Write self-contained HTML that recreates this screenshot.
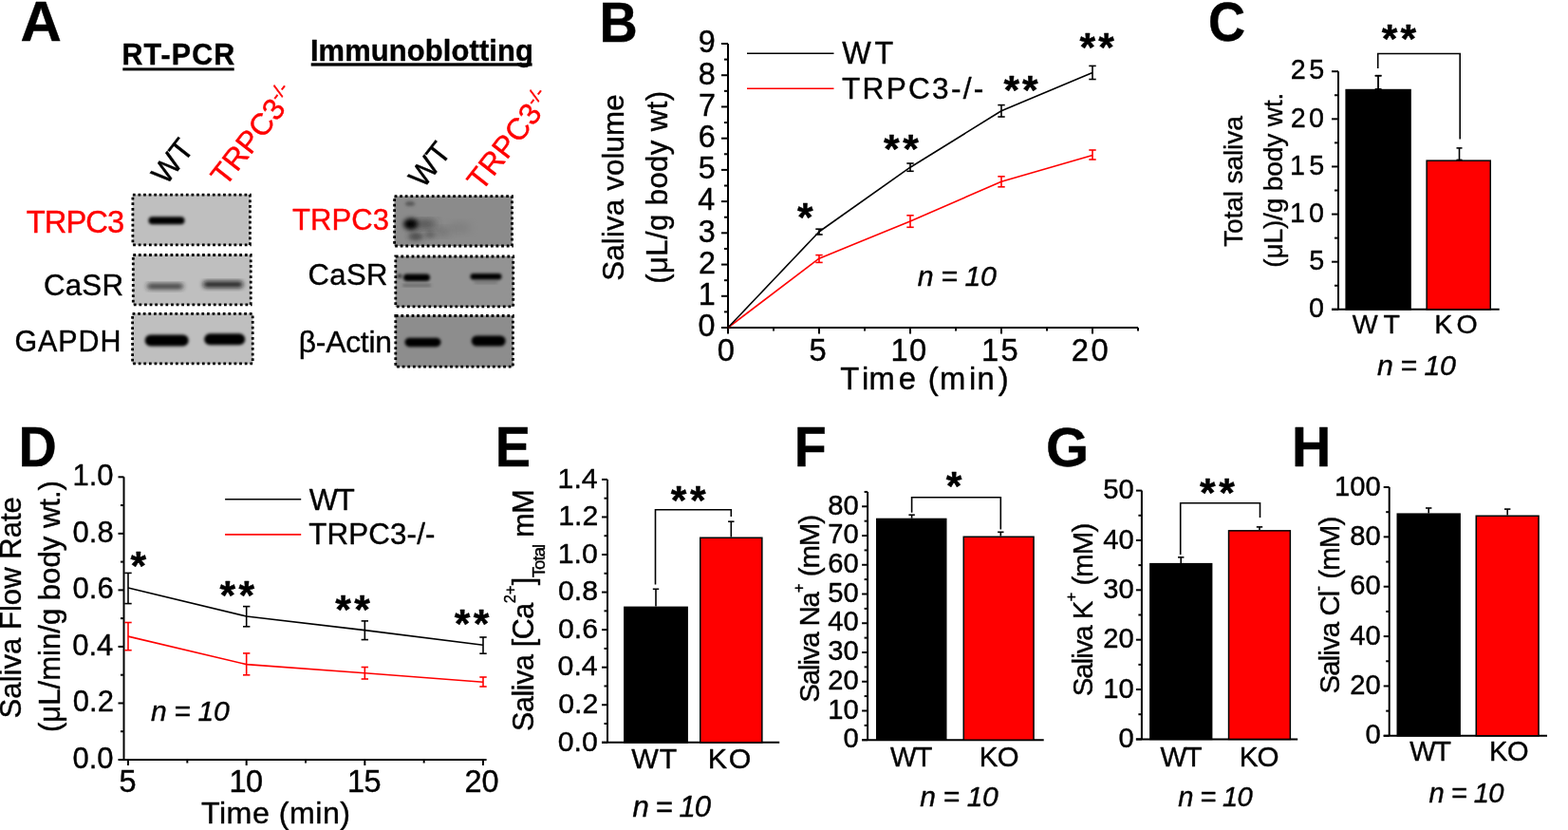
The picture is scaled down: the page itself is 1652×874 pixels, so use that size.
<!DOCTYPE html>
<html><head><meta charset="utf-8"><title>TRPC3 saliva figure</title>
<style>
html,body{margin:0;padding:0;background:#fff;}
body{width:1652px;height:874px;overflow:hidden;}
svg{display:block;}
svg text{font-family:'Liberation Sans', Arial, Helvetica, sans-serif;stroke:#000;stroke-width:0.4px;stroke-linejoin:round;}
svg text[fill="#ff0000"]{stroke:#ff0000;}
</style></head><body>
<svg width="1652" height="874" viewBox="0 0 1652 874">
<defs>
<filter id="blur1" x="-50%" y="-50%" width="200%" height="200%"><feGaussianBlur stdDeviation="1.6"/></filter>
<filter id="blur2" x="-50%" y="-50%" width="200%" height="200%"><feGaussianBlur stdDeviation="2.6"/></filter>
<filter id="blur3" x="-50%" y="-50%" width="200%" height="200%"><feGaussianBlur stdDeviation="4"/></filter>
</defs>
<rect width="1652" height="874" fill="#fff"/>
<text transform="translate(23.00,43.40) scale(1.0273,1)" x="-1.46" y="0" style="font-size:58.41px;font-weight:bold" fill="#000">A</text>
<text transform="translate(635.10,43.60) scale(0.9496,1)" x="-3.82" y="0" style="font-size:58.70px;font-weight:bold" fill="#000">B</text>
<text transform="translate(1275.10,43.40) scale(0.9399,1)" x="-2.30" y="0" style="font-size:57.50px;font-weight:bold" fill="#000">C</text>
<text transform="translate(23.00,490.80) scale(0.9479,1)" x="-3.82" y="0" style="font-size:58.84px;font-weight:bold" fill="#000">D</text>
<text transform="translate(525.40,490.80) scale(0.9412,1)" x="-3.86" y="0" style="font-size:59.42px;font-weight:bold" fill="#000">E</text>
<text transform="translate(840.30,490.80) scale(0.9372,1)" x="-3.86" y="0" style="font-size:59.42px;font-weight:bold" fill="#000">F</text>
<text transform="translate(1104.20,490.80) scale(1.0100,1)" x="-2.30" y="0" style="font-size:57.50px;font-weight:bold" fill="#000">G</text>
<text transform="translate(1364.60,490.80) scale(0.9641,1)" x="-3.86" y="0" style="font-size:59.42px;font-weight:bold" fill="#000">H</text>
<text x="128.42" y="68.20" style="font-size:30.43px;font-weight:bold;letter-spacing:1.14px" fill="#000">RT-PCR</text>
<rect x="129.30" y="71.40" width="117.40" height="3.00" fill="#000" />
<text x="326.89" y="63.60" style="font-size:30.90px;font-weight:bold;letter-spacing:0.13px" fill="#000">Immunoblotting</text>
<rect x="327.70" y="66.30" width="232.90" height="3.30" fill="#000" />
<rect x="139.70" y="204.90" width="123.90" height="53.20" fill="#bfbfbf" />
<rect x="140.10" y="268.30" width="124.30" height="52.70" fill="#bfbfbf" />
<rect x="139.40" y="330.10" width="127.00" height="52.90" fill="#bfbfbf" />
<rect x="156.50" y="228.20" width="38.00" height="8.00" rx="4.00" fill="#000" opacity="1" filter="url(#blur1)"/>
<rect x="155.00" y="298.85" width="38.00" height="5.50" rx="2.75" fill="#222" opacity="0.9" filter="url(#blur2)"/>
<rect x="214.00" y="296.35" width="42.00" height="6.50" rx="3.25" fill="#111" opacity="0.95" filter="url(#blur2)"/>
<rect x="152.70" y="352.60" width="46.00" height="12.00" rx="6.00" fill="#000" opacity="1" filter="url(#blur1)"/>
<rect x="215.20" y="351.30" width="43.00" height="12.00" rx="6.00" fill="#000" opacity="1" filter="url(#blur1)"/>
<rect x="139.90" y="205.10" width="123.50" height="52.80" fill="none" stroke="#000" stroke-width="2.8" stroke-dasharray="2.75 2.85"/>
<rect x="140.30" y="268.50" width="123.90" height="52.30" fill="none" stroke="#000" stroke-width="2.8" stroke-dasharray="2.75 2.85"/>
<rect x="139.60" y="330.30" width="126.60" height="52.50" fill="none" stroke="#000" stroke-width="2.8" stroke-dasharray="2.75 2.85"/>
<rect x="415.40" y="206.50" width="124.30" height="52.70" fill="#8b8b8b" />
<rect x="416.60" y="269.80" width="124.30" height="53.20" fill="#939393" />
<rect x="416.60" y="332.30" width="124.00" height="54.10" fill="#8d8d8d" />
<ellipse cx="433.00" cy="236.00" rx="8.00" ry="6.00" fill="#000" opacity="1" filter="url(#blur2)"/>
<ellipse cx="432.00" cy="214.50" rx="5.00" ry="2.50" fill="#444" opacity="0.7" filter="url(#blur1)"/>
<ellipse cx="448.00" cy="236.00" rx="12.00" ry="4.00" fill="#333" opacity="0.8" filter="url(#blur3)"/>
<ellipse cx="438.00" cy="249.00" rx="8.00" ry="4.00" fill="#333" opacity="0.7" filter="url(#blur2)"/>
<ellipse cx="453.00" cy="247.00" rx="6.00" ry="3.50" fill="#444" opacity="0.6" filter="url(#blur2)"/>
<ellipse cx="466.00" cy="244.00" rx="8.00" ry="4.00" fill="#555" opacity="0.5" filter="url(#blur3)"/>
<ellipse cx="484.00" cy="240.00" rx="12.00" ry="5.00" fill="#666" opacity="0.35" filter="url(#blur3)"/>
<rect x="425.00" y="288.55" width="28.00" height="7.50" rx="3.75" fill="#000" opacity="1" filter="url(#blur1)"/>
<ellipse cx="421.00" cy="290.80" rx="2.50" ry="2.00" fill="#111" opacity="0.8" filter="url(#blur1)"/>
<rect x="495.50" y="288.05" width="33.00" height="6.50" rx="3.25" fill="#000" opacity="1" filter="url(#blur1)"/>
<rect x="424.00" y="299.25" width="30.00" height="2.50" rx="1.25" fill="#333" opacity="0.5" filter="url(#blur1)"/>
<rect x="499.50" y="296.50" width="25.00" height="2.00" rx="1.00" fill="#333" opacity="0.4" filter="url(#blur1)"/>
<rect x="426.50" y="355.65" width="38.00" height="9.50" rx="4.75" fill="#000" opacity="1" filter="url(#blur1)"/>
<rect x="496.70" y="353.50" width="36.00" height="11.00" rx="5.50" fill="#000" opacity="1" filter="url(#blur1)"/>
<rect x="415.60" y="206.70" width="123.90" height="52.30" fill="none" stroke="#000" stroke-width="2.8" stroke-dasharray="2.75 2.85"/>
<rect x="416.80" y="270.00" width="123.90" height="52.80" fill="none" stroke="#000" stroke-width="2.8" stroke-dasharray="2.75 2.85"/>
<rect x="416.80" y="332.50" width="123.60" height="53.70" fill="none" stroke="#000" stroke-width="2.8" stroke-dasharray="2.75 2.85"/>
<text x="27.65" y="244.60" style="font-size:32.71px;letter-spacing:-0.92px" fill="#ff0000">TRPC3</text>
<text x="45.94" y="311.30" style="font-size:31.30px;letter-spacing:0.19px" fill="#000">CaSR</text>
<text x="15.48" y="370.20" style="font-size:30.43px;letter-spacing:0.95px" fill="#000">GAPDH</text>
<text x="308.08" y="242.40" style="font-size:31.00px;letter-spacing:0.08px" fill="#ff0000">TRPC3</text>
<text x="324.55" y="300.00" style="font-size:31.00px;letter-spacing:0.41px" fill="#000">CaSR</text>
<text x="314.77" y="370.80" style="font-size:31.80px;letter-spacing:-0.24px" fill="#000">β-Actin</text>
<text transform="translate(175.00,196.00) rotate(-52)" x="0" y="0" style="font-size:32px" fill="#000">WT</text>
<text transform="translate(237.50,197.50) rotate(-52)" x="0" y="0" style="font-size:32px" fill="#ff0000">TRPC3<tspan dy="-11.5" style="font-size:19.8px">-/-</tspan></text>
<text transform="translate(446.00,199.50) rotate(-52)" x="0" y="0" style="font-size:32px" fill="#000">WT</text>
<text transform="translate(507.50,202.50) rotate(-52)" x="0" y="0" style="font-size:32px" fill="#ff0000">TRPC3<tspan dy="-11.5" style="font-size:19.8px">-/-</tspan></text>
<line x1="767.00" y1="46.00" x2="767.00" y2="346.00" stroke="#000" stroke-width="2.0"/>
<line x1="760.00" y1="345.00" x2="767.00" y2="345.00" stroke="#000" stroke-width="2.0"/>
<line x1="760.00" y1="311.78" x2="767.00" y2="311.78" stroke="#000" stroke-width="2.0"/>
<line x1="760.00" y1="278.56" x2="767.00" y2="278.56" stroke="#000" stroke-width="2.0"/>
<line x1="760.00" y1="245.33" x2="767.00" y2="245.33" stroke="#000" stroke-width="2.0"/>
<line x1="760.00" y1="212.11" x2="767.00" y2="212.11" stroke="#000" stroke-width="2.0"/>
<line x1="760.00" y1="178.89" x2="767.00" y2="178.89" stroke="#000" stroke-width="2.0"/>
<line x1="760.00" y1="145.67" x2="767.00" y2="145.67" stroke="#000" stroke-width="2.0"/>
<line x1="760.00" y1="112.44" x2="767.00" y2="112.44" stroke="#000" stroke-width="2.0"/>
<line x1="760.00" y1="79.22" x2="767.00" y2="79.22" stroke="#000" stroke-width="2.0"/>
<line x1="760.00" y1="46.00" x2="767.00" y2="46.00" stroke="#000" stroke-width="2.0"/>
<line x1="763.00" y1="328.39" x2="767.00" y2="328.39" stroke="#000" stroke-width="2.0"/>
<line x1="763.00" y1="295.17" x2="767.00" y2="295.17" stroke="#000" stroke-width="2.0"/>
<line x1="763.00" y1="261.94" x2="767.00" y2="261.94" stroke="#000" stroke-width="2.0"/>
<line x1="763.00" y1="228.72" x2="767.00" y2="228.72" stroke="#000" stroke-width="2.0"/>
<line x1="763.00" y1="195.50" x2="767.00" y2="195.50" stroke="#000" stroke-width="2.0"/>
<line x1="763.00" y1="162.28" x2="767.00" y2="162.28" stroke="#000" stroke-width="2.0"/>
<line x1="763.00" y1="129.06" x2="767.00" y2="129.06" stroke="#000" stroke-width="2.0"/>
<line x1="763.00" y1="95.83" x2="767.00" y2="95.83" stroke="#000" stroke-width="2.0"/>
<line x1="763.00" y1="62.61" x2="767.00" y2="62.61" stroke="#000" stroke-width="2.0"/>
<line x1="766.00" y1="345.00" x2="1199.00" y2="345.00" stroke="#000" stroke-width="2.0"/>
<line x1="767.00" y1="345.00" x2="767.00" y2="351.50" stroke="#000" stroke-width="2.0"/>
<line x1="863.00" y1="345.00" x2="863.00" y2="351.50" stroke="#000" stroke-width="2.0"/>
<line x1="959.00" y1="345.00" x2="959.00" y2="351.50" stroke="#000" stroke-width="2.0"/>
<line x1="1055.00" y1="345.00" x2="1055.00" y2="351.50" stroke="#000" stroke-width="2.0"/>
<line x1="1151.00" y1="345.00" x2="1151.00" y2="351.50" stroke="#000" stroke-width="2.0"/>
<line x1="815.00" y1="345.00" x2="815.00" y2="348.50" stroke="#000" stroke-width="2.0"/>
<line x1="911.00" y1="345.00" x2="911.00" y2="348.50" stroke="#000" stroke-width="2.0"/>
<line x1="1007.00" y1="345.00" x2="1007.00" y2="348.50" stroke="#000" stroke-width="2.0"/>
<line x1="1103.00" y1="345.00" x2="1103.00" y2="348.50" stroke="#000" stroke-width="2.0"/>
<line x1="1199.00" y1="345.00" x2="1199.00" y2="348.50" stroke="#000" stroke-width="2.0"/>
<text x="735.50" y="354.30" style="font-size:32.3px">0</text>
<text x="735.83" y="321.08" style="font-size:32.3px">1</text>
<text x="735.99" y="287.86" style="font-size:32.3px">2</text>
<text x="735.67" y="254.63" style="font-size:32.3px">3</text>
<text x="735.34" y="221.41" style="font-size:32.3px">4</text>
<text x="735.67" y="188.19" style="font-size:32.3px">5</text>
<text x="735.67" y="154.97" style="font-size:32.3px">6</text>
<text x="735.99" y="121.74" style="font-size:32.3px">7</text>
<text x="735.67" y="88.52" style="font-size:32.3px">8</text>
<text x="735.83" y="55.30" style="font-size:32.3px">9</text>
<text x="755.79" y="379.50" style="font-size:32.70px" fill="#000">0</text>
<text x="852.49" y="379.50" style="font-size:32.70px" fill="#000">5</text>
<text x="938.45" y="379.50" style="font-size:32.70px;letter-spacing:1.40px" fill="#000">10</text>
<text x="1033.95" y="379.50" style="font-size:32.70px;letter-spacing:2.26px" fill="#000">15</text>
<text x="1128.77" y="379.50" style="font-size:32.70px;letter-spacing:2.68px" fill="#000">20</text>
<text x="885.14 907.97 915.57 946.79 965.03 977.83 989.97 1021.07 1029.47 1051.74" y="410.10" style="font-size:32.8px;white-space:pre" fill="#000">Time (min)</text>
<text transform="translate(657.00,294.30) rotate(-90)" x="-1.41" y="0" style="font-size:31.31px;letter-spacing:0.13px" fill="#000">Saliva volume</text>
<text transform="translate(702.50,297.00) rotate(-90)" x="-1.86" y="0" style="font-size:31.00px;letter-spacing:0.45px" fill="#000">(μL/g body wt)</text>
<line x1="787.00" y1="56.30" x2="878.50" y2="56.30" stroke="#000" stroke-width="1.6"/>
<line x1="787.00" y1="93.20" x2="878.50" y2="93.20" stroke="#ff0000" stroke-width="1.6"/>
<text x="887.14 921.45" y="66.90" style="font-size:32.3px;white-space:pre" fill="#000">WT</text>
<text x="887.07" y="103.90" style="font-size:31.60px;letter-spacing:2.26px" fill="#000">TRPC3-/-</text>
<path d="M767.00 345.00 L863.00 272.20 L959.00 232.90 L1055.00 191.30 L1151.00 163.40" stroke="#ff0000" stroke-width="1.6" fill="none" stroke-linejoin="round"/>
<path d="M767.00 345.00 L863.00 244.00 L959.00 176.20 L1055.00 116.80 L1151.00 76.60" stroke="#000" stroke-width="1.6" fill="none" stroke-linejoin="round"/>
<line x1="863.00" y1="241.20" x2="863.00" y2="247.00" stroke="#000" stroke-width="1.6"/>
<line x1="859.30" y1="241.20" x2="866.70" y2="241.20" stroke="#000" stroke-width="1.6"/>
<line x1="859.30" y1="247.00" x2="866.70" y2="247.00" stroke="#000" stroke-width="1.6"/>
<line x1="959.00" y1="172.00" x2="959.00" y2="180.30" stroke="#000" stroke-width="1.6"/>
<line x1="955.30" y1="172.00" x2="962.70" y2="172.00" stroke="#000" stroke-width="1.6"/>
<line x1="955.30" y1="180.30" x2="962.70" y2="180.30" stroke="#000" stroke-width="1.6"/>
<line x1="1055.00" y1="110.60" x2="1055.00" y2="123.00" stroke="#000" stroke-width="1.6"/>
<line x1="1051.30" y1="110.60" x2="1058.70" y2="110.60" stroke="#000" stroke-width="1.6"/>
<line x1="1051.30" y1="123.00" x2="1058.70" y2="123.00" stroke="#000" stroke-width="1.6"/>
<line x1="1151.00" y1="69.40" x2="1151.00" y2="83.50" stroke="#000" stroke-width="1.6"/>
<line x1="1147.30" y1="69.40" x2="1154.70" y2="69.40" stroke="#000" stroke-width="1.6"/>
<line x1="1147.30" y1="83.50" x2="1154.70" y2="83.50" stroke="#000" stroke-width="1.6"/>
<line x1="863.00" y1="268.60" x2="863.00" y2="276.40" stroke="#ff0000" stroke-width="1.6"/>
<line x1="859.30" y1="268.60" x2="866.70" y2="268.60" stroke="#ff0000" stroke-width="1.6"/>
<line x1="859.30" y1="276.40" x2="866.70" y2="276.40" stroke="#ff0000" stroke-width="1.6"/>
<line x1="959.00" y1="226.80" x2="959.00" y2="239.30" stroke="#ff0000" stroke-width="1.6"/>
<line x1="955.30" y1="226.80" x2="962.70" y2="226.80" stroke="#ff0000" stroke-width="1.6"/>
<line x1="955.30" y1="239.30" x2="962.70" y2="239.30" stroke="#ff0000" stroke-width="1.6"/>
<line x1="1055.00" y1="185.80" x2="1055.00" y2="196.80" stroke="#ff0000" stroke-width="1.6"/>
<line x1="1051.30" y1="185.80" x2="1058.70" y2="185.80" stroke="#ff0000" stroke-width="1.6"/>
<line x1="1051.30" y1="196.80" x2="1058.70" y2="196.80" stroke="#ff0000" stroke-width="1.6"/>
<line x1="1151.00" y1="158.00" x2="1151.00" y2="168.00" stroke="#ff0000" stroke-width="1.6"/>
<line x1="1147.30" y1="158.00" x2="1154.70" y2="158.00" stroke="#ff0000" stroke-width="1.6"/>
<line x1="1147.30" y1="168.00" x2="1154.70" y2="168.00" stroke="#ff0000" stroke-width="1.6"/>
<text x="839.89" y="242.56" style="font-size:42.70px;font-weight:bold" fill="#000">*</text>
<text x="930.99" y="171.46" style="font-size:42.70px;font-weight:bold;letter-spacing:3.62px" fill="#000">**</text>
<text x="1057.39" y="109.46" style="font-size:42.70px;font-weight:bold;letter-spacing:3.12px" fill="#000">**</text>
<text x="1137.59" y="64.26" style="font-size:42.70px;font-weight:bold;letter-spacing:3.12px" fill="#000">**</text>
<text x="966.85" y="300.90" style="font-size:30.29px;font-style:italic;letter-spacing:-0.41px" fill="#000">n = 10</text>
<line x1="1410.00" y1="75.20" x2="1410.00" y2="325.80" stroke="#000" stroke-width="2.0"/>
<line x1="1403.00" y1="325.80" x2="1410.00" y2="325.80" stroke="#000" stroke-width="2.0"/>
<line x1="1403.00" y1="275.68" x2="1410.00" y2="275.68" stroke="#000" stroke-width="2.0"/>
<line x1="1403.00" y1="225.56" x2="1410.00" y2="225.56" stroke="#000" stroke-width="2.0"/>
<line x1="1403.00" y1="175.44" x2="1410.00" y2="175.44" stroke="#000" stroke-width="2.0"/>
<line x1="1403.00" y1="125.32" x2="1410.00" y2="125.32" stroke="#000" stroke-width="2.0"/>
<line x1="1403.00" y1="75.20" x2="1410.00" y2="75.20" stroke="#000" stroke-width="2.0"/>
<line x1="1406.00" y1="300.74" x2="1410.00" y2="300.74" stroke="#000" stroke-width="2.0"/>
<line x1="1406.00" y1="250.62" x2="1410.00" y2="250.62" stroke="#000" stroke-width="2.0"/>
<line x1="1406.00" y1="200.50" x2="1410.00" y2="200.50" stroke="#000" stroke-width="2.0"/>
<line x1="1406.00" y1="150.38" x2="1410.00" y2="150.38" stroke="#000" stroke-width="2.0"/>
<line x1="1406.00" y1="100.26" x2="1410.00" y2="100.26" stroke="#000" stroke-width="2.0"/>
<line x1="1403.00" y1="325.80" x2="1579.70" y2="325.80" stroke="#000" stroke-width="2.0"/>
<rect x="1418.15" y="94.55" width="67.90" height="231.25" fill="#000" stroke="#000" stroke-width="1.5" />
<rect x="1503.15" y="169.15" width="67.10" height="156.65" fill="#ff0000" stroke="#000" stroke-width="1.5" />
<line x1="1452.10" y1="79.70" x2="1452.10" y2="93.80" stroke="#000" stroke-width="1.6"/>
<line x1="1448.70" y1="79.70" x2="1455.50" y2="79.70" stroke="#000" stroke-width="1.6"/>
<line x1="1448.70" y1="93.80" x2="1455.50" y2="93.80" stroke="#000" stroke-width="1.6"/>
<line x1="1448.70" y1="79.70" x2="1455.50" y2="79.70" stroke="#000" stroke-width="1.6"/>
<line x1="1452.1" y1="79.7" x2="1452.1" y2="94" stroke="#000" stroke-width="1.6"/>
<line x1="1537.50" y1="155.90" x2="1537.50" y2="168.40" stroke="#000" stroke-width="1.6"/>
<line x1="1534.50" y1="155.90" x2="1540.50" y2="155.90" stroke="#000" stroke-width="1.6"/>
<line x1="1534.50" y1="168.40" x2="1540.50" y2="168.40" stroke="#000" stroke-width="1.6"/>
<path d="M1451.7 72 V56.5 H1538.2 V146.4" stroke="#000" stroke-width="1.6" fill="none" />
<text x="1455.69" y="55.46" style="font-size:42.70px;font-weight:bold;letter-spacing:3.12px" fill="#000">**</text>
<text x="1379.08" y="334.00" style="font-size:28.70px" fill="#000">0</text>
<text x="1379.22" y="283.88" style="font-size:28.70px" fill="#000">5</text>
<text x="1359.05" y="233.76" style="font-size:28.70px;letter-spacing:4.10px" fill="#000">10</text>
<text x="1359.05" y="183.64" style="font-size:28.70px;letter-spacing:4.24px" fill="#000">15</text>
<text x="1359.77" y="133.52" style="font-size:28.70px;letter-spacing:3.38px" fill="#000">20</text>
<text x="1359.77" y="83.40" style="font-size:28.70px;letter-spacing:3.53px" fill="#000">25</text>
<text x="1424.86 1457.53" y="350.90" style="font-size:28.5px;white-space:pre" fill="#000">WT</text>
<text x="1511.22 1534.52" y="350.90" style="font-size:28.5px;white-space:pre" fill="#000">KO</text>
<text x="1451.05" y="395.30" style="font-size:30.29px;font-style:italic;letter-spacing:-0.47px" fill="#000">n = 10</text>
<text transform="translate(1308.60,259.50) rotate(-90)" x="-0.57" y="0" style="font-size:28.41px;letter-spacing:-0.23px" fill="#000">Total saliva</text>
<text transform="translate(1350.80,280.10) rotate(-90)" x="-1.69" y="0" style="font-size:28.10px;letter-spacing:-0.16px" fill="#000">(μL)/g body wt.</text>
<line x1="130.50" y1="502.30" x2="130.50" y2="800.00" stroke="#000" stroke-width="2.0"/>
<line x1="124.50" y1="800.00" x2="130.50" y2="800.00" stroke="#000" stroke-width="2.0"/>
<line x1="124.50" y1="740.46" x2="130.50" y2="740.46" stroke="#000" stroke-width="2.0"/>
<line x1="124.50" y1="680.92" x2="130.50" y2="680.92" stroke="#000" stroke-width="2.0"/>
<line x1="124.50" y1="621.38" x2="130.50" y2="621.38" stroke="#000" stroke-width="2.0"/>
<line x1="124.50" y1="561.84" x2="130.50" y2="561.84" stroke="#000" stroke-width="2.0"/>
<line x1="124.50" y1="502.30" x2="130.50" y2="502.30" stroke="#000" stroke-width="2.0"/>
<line x1="127.00" y1="770.23" x2="130.50" y2="770.23" stroke="#000" stroke-width="2.0"/>
<line x1="127.00" y1="710.69" x2="130.50" y2="710.69" stroke="#000" stroke-width="2.0"/>
<line x1="127.00" y1="651.15" x2="130.50" y2="651.15" stroke="#000" stroke-width="2.0"/>
<line x1="127.00" y1="591.61" x2="130.50" y2="591.61" stroke="#000" stroke-width="2.0"/>
<line x1="127.00" y1="532.07" x2="130.50" y2="532.07" stroke="#000" stroke-width="2.0"/>
<line x1="129.50" y1="800.00" x2="512.60" y2="800.00" stroke="#000" stroke-width="2.0"/>
<line x1="135.00" y1="800.00" x2="135.00" y2="806.00" stroke="#000" stroke-width="2.0"/>
<line x1="259.67" y1="800.00" x2="259.67" y2="806.00" stroke="#000" stroke-width="2.0"/>
<line x1="384.33" y1="800.00" x2="384.33" y2="806.00" stroke="#000" stroke-width="2.0"/>
<line x1="509.00" y1="800.00" x2="509.00" y2="806.00" stroke="#000" stroke-width="2.0"/>
<line x1="197.33" y1="800.00" x2="197.33" y2="803.50" stroke="#000" stroke-width="2.0"/>
<line x1="322.00" y1="800.00" x2="322.00" y2="803.50" stroke="#000" stroke-width="2.0"/>
<line x1="446.67" y1="800.00" x2="446.67" y2="803.50" stroke="#000" stroke-width="2.0"/>
<text x="76.40" y="808.80" style="font-size:31px">0.0</text>
<text x="76.86" y="749.26" style="font-size:31px">0.2</text>
<text x="76.24" y="689.72" style="font-size:31px">0.4</text>
<text x="76.55" y="630.18" style="font-size:31px">0.6</text>
<text x="76.55" y="570.64" style="font-size:31px">0.8</text>
<text x="76.40" y="511.10" style="font-size:31px">1.0</text>
<text x="125.40" y="833.90" style="font-size:32.50px" fill="#000">5</text>
<text x="241.56" y="833.90" style="font-size:32.50px;letter-spacing:-0.60px" fill="#000">10</text>
<text x="366.06" y="833.90" style="font-size:32.50px;letter-spacing:-0.54px" fill="#000">15</text>
<text x="489.48" y="833.90" style="font-size:32.50px" fill="#000">20</text>
<text x="211.96" y="867.30" style="font-size:32.20px;letter-spacing:0.50px" fill="#000">Time (min)</text>
<text transform="translate(22.40,755.00) rotate(-90)" x="-1.40" y="0" style="font-size:31.10px" fill="#000">Saliva Flow Rate</text>
<text transform="translate(63.10,769.20) rotate(-90)" x="-1.87" y="0" style="font-size:31.10px" fill="#000">(μL/min/g body wt.)</text>
<line x1="237.10" y1="525.70" x2="317.20" y2="525.70" stroke="#000" stroke-width="1.6"/>
<line x1="237.10" y1="562.90" x2="317.20" y2="562.90" stroke="#ff0000" stroke-width="1.6"/>
<text x="325.74" y="536.60" style="font-size:32.03px;letter-spacing:-1.80px" fill="#000">WT</text>
<text x="325.27" y="572.90" style="font-size:31.30px;letter-spacing:0.14px" fill="#000">TRPC3-/-</text>
<path d="M135.00 670.10 L259.67 699.60 L384.33 708.80 L509.00 718.20" stroke="#ff0000" stroke-width="1.6" fill="none" stroke-linejoin="round"/>
<path d="M135.00 619.00 L259.67 649.00 L384.33 663.60 L509.00 679.30" stroke="#000" stroke-width="1.6" fill="none" stroke-linejoin="round"/>
<line x1="135.00" y1="603.40" x2="135.00" y2="635.60" stroke="#000" stroke-width="1.6"/>
<line x1="131.30" y1="603.40" x2="138.70" y2="603.40" stroke="#000" stroke-width="1.6"/>
<line x1="131.30" y1="635.60" x2="138.70" y2="635.60" stroke="#000" stroke-width="1.6"/>
<line x1="259.67" y1="638.60" x2="259.67" y2="659.80" stroke="#000" stroke-width="1.6"/>
<line x1="255.97" y1="638.60" x2="263.37" y2="638.60" stroke="#000" stroke-width="1.6"/>
<line x1="255.97" y1="659.80" x2="263.37" y2="659.80" stroke="#000" stroke-width="1.6"/>
<line x1="384.33" y1="653.90" x2="384.33" y2="673.60" stroke="#000" stroke-width="1.6"/>
<line x1="380.63" y1="653.90" x2="388.03" y2="653.90" stroke="#000" stroke-width="1.6"/>
<line x1="380.63" y1="673.60" x2="388.03" y2="673.60" stroke="#000" stroke-width="1.6"/>
<line x1="509.00" y1="671.00" x2="509.00" y2="688.20" stroke="#000" stroke-width="1.6"/>
<line x1="505.30" y1="671.00" x2="512.70" y2="671.00" stroke="#000" stroke-width="1.6"/>
<line x1="505.30" y1="688.20" x2="512.70" y2="688.20" stroke="#000" stroke-width="1.6"/>
<line x1="135.00" y1="655.50" x2="135.00" y2="684.70" stroke="#ff0000" stroke-width="1.6"/>
<line x1="131.30" y1="655.50" x2="138.70" y2="655.50" stroke="#ff0000" stroke-width="1.6"/>
<line x1="131.30" y1="684.70" x2="138.70" y2="684.70" stroke="#ff0000" stroke-width="1.6"/>
<line x1="259.67" y1="687.90" x2="259.67" y2="710.80" stroke="#ff0000" stroke-width="1.6"/>
<line x1="255.97" y1="687.90" x2="263.37" y2="687.90" stroke="#ff0000" stroke-width="1.6"/>
<line x1="255.97" y1="710.80" x2="263.37" y2="710.80" stroke="#ff0000" stroke-width="1.6"/>
<line x1="384.33" y1="702.50" x2="384.33" y2="715.00" stroke="#ff0000" stroke-width="1.6"/>
<line x1="380.63" y1="702.50" x2="388.03" y2="702.50" stroke="#ff0000" stroke-width="1.6"/>
<line x1="380.63" y1="715.00" x2="388.03" y2="715.00" stroke="#ff0000" stroke-width="1.6"/>
<line x1="509.00" y1="713.00" x2="509.00" y2="723.00" stroke="#ff0000" stroke-width="1.6"/>
<line x1="505.30" y1="713.00" x2="512.70" y2="713.00" stroke="#ff0000" stroke-width="1.6"/>
<line x1="505.30" y1="723.00" x2="512.70" y2="723.00" stroke="#ff0000" stroke-width="1.6"/>
<text x="137.49" y="609.56" style="font-size:42.70px;font-weight:bold" fill="#000">*</text>
<text x="231.49" y="640.66" style="font-size:42.70px;font-weight:bold;letter-spacing:3.52px" fill="#000">**</text>
<text x="353.19" y="656.26" style="font-size:42.70px;font-weight:bold;letter-spacing:3.52px" fill="#000">**</text>
<text x="478.79" y="670.56" style="font-size:42.70px;font-weight:bold;letter-spacing:3.32px" fill="#000">**</text>
<text x="158.95" y="758.90" style="font-size:30.00px;font-style:italic;letter-spacing:-0.31px" fill="#000">n = 10</text>
<line x1="640.00" y1="504.90" x2="640.00" y2="781.80" stroke="#000" stroke-width="2.0"/>
<line x1="634.00" y1="781.80" x2="640.00" y2="781.80" stroke="#000" stroke-width="2.0"/>
<line x1="634.00" y1="742.24" x2="640.00" y2="742.24" stroke="#000" stroke-width="2.0"/>
<line x1="634.00" y1="702.69" x2="640.00" y2="702.69" stroke="#000" stroke-width="2.0"/>
<line x1="634.00" y1="663.13" x2="640.00" y2="663.13" stroke="#000" stroke-width="2.0"/>
<line x1="634.00" y1="623.57" x2="640.00" y2="623.57" stroke="#000" stroke-width="2.0"/>
<line x1="634.00" y1="584.01" x2="640.00" y2="584.01" stroke="#000" stroke-width="2.0"/>
<line x1="634.00" y1="544.46" x2="640.00" y2="544.46" stroke="#000" stroke-width="2.0"/>
<line x1="634.00" y1="504.90" x2="640.00" y2="504.90" stroke="#000" stroke-width="2.0"/>
<line x1="636.50" y1="762.02" x2="640.00" y2="762.02" stroke="#000" stroke-width="2.0"/>
<line x1="636.50" y1="722.46" x2="640.00" y2="722.46" stroke="#000" stroke-width="2.0"/>
<line x1="636.50" y1="682.91" x2="640.00" y2="682.91" stroke="#000" stroke-width="2.0"/>
<line x1="636.50" y1="643.35" x2="640.00" y2="643.35" stroke="#000" stroke-width="2.0"/>
<line x1="636.50" y1="603.79" x2="640.00" y2="603.79" stroke="#000" stroke-width="2.0"/>
<line x1="636.50" y1="564.24" x2="640.00" y2="564.24" stroke="#000" stroke-width="2.0"/>
<line x1="636.50" y1="524.68" x2="640.00" y2="524.68" stroke="#000" stroke-width="2.0"/>
<line x1="634.00" y1="781.80" x2="821.20" y2="781.80" stroke="#000" stroke-width="2.0"/>
<rect x="657.85" y="639.35" width="66.30" height="142.45" fill="#000" stroke="#000" stroke-width="1.5" />
<rect x="737.75" y="566.25" width="65.10" height="215.55" fill="#ff0000" stroke="#000" stroke-width="1.5" />
<line x1="691.00" y1="620.30" x2="691.00" y2="638.60" stroke="#000" stroke-width="1.6"/>
<line x1="687.80" y1="620.30" x2="694.20" y2="620.30" stroke="#000" stroke-width="1.6"/>
<line x1="770.30" y1="549.20" x2="770.30" y2="565.50" stroke="#000" stroke-width="1.6"/>
<line x1="767.10" y1="549.20" x2="773.50" y2="549.20" stroke="#000" stroke-width="1.6"/>
<path d="M690.5 615.5 V536.8 H770.3 V544.1" stroke="#000" stroke-width="1.6" fill="none" />
<text x="706.79" y="541.26" style="font-size:42.70px;font-weight:bold;letter-spacing:3.52px" fill="#000">**</text>
<text x="587.74" y="790.50" style="font-size:30.3px">0.0</text>
<text x="588.20" y="750.94" style="font-size:30.3px">0.2</text>
<text x="587.59" y="711.39" style="font-size:30.3px">0.4</text>
<text x="587.89" y="671.83" style="font-size:30.3px">0.6</text>
<text x="587.89" y="632.27" style="font-size:30.3px">0.8</text>
<text x="587.74" y="592.71" style="font-size:30.3px">1.0</text>
<text x="588.20" y="553.16" style="font-size:30.3px">1.2</text>
<text x="587.59" y="513.60" style="font-size:30.3px">1.4</text>
<text x="665.25 694.79" y="809.10" style="font-size:30.3px;white-space:pre" fill="#000">WT</text>
<text x="745.68 767.64" y="809.10" style="font-size:30.3px;white-space:pre" fill="#000">KO</text>
<text x="666.53" y="859.70" style="font-size:31.14px;font-style:italic;letter-spacing:-0.95px" fill="#000">n = 10</text>
<line x1="914.10" y1="517.93" x2="914.10" y2="779.20" stroke="#000" stroke-width="2.0"/>
<line x1="908.10" y1="779.20" x2="914.10" y2="779.20" stroke="#000" stroke-width="2.0"/>
<line x1="908.10" y1="748.46" x2="914.10" y2="748.46" stroke="#000" stroke-width="2.0"/>
<line x1="908.10" y1="717.73" x2="914.10" y2="717.73" stroke="#000" stroke-width="2.0"/>
<line x1="908.10" y1="686.99" x2="914.10" y2="686.99" stroke="#000" stroke-width="2.0"/>
<line x1="908.10" y1="656.25" x2="914.10" y2="656.25" stroke="#000" stroke-width="2.0"/>
<line x1="908.10" y1="625.51" x2="914.10" y2="625.51" stroke="#000" stroke-width="2.0"/>
<line x1="908.10" y1="594.77" x2="914.10" y2="594.77" stroke="#000" stroke-width="2.0"/>
<line x1="908.10" y1="564.04" x2="914.10" y2="564.04" stroke="#000" stroke-width="2.0"/>
<line x1="908.10" y1="533.30" x2="914.10" y2="533.30" stroke="#000" stroke-width="2.0"/>
<line x1="910.60" y1="763.83" x2="914.10" y2="763.83" stroke="#000" stroke-width="2.0"/>
<line x1="910.60" y1="733.09" x2="914.10" y2="733.09" stroke="#000" stroke-width="2.0"/>
<line x1="910.60" y1="702.36" x2="914.10" y2="702.36" stroke="#000" stroke-width="2.0"/>
<line x1="910.60" y1="671.62" x2="914.10" y2="671.62" stroke="#000" stroke-width="2.0"/>
<line x1="910.60" y1="640.88" x2="914.10" y2="640.88" stroke="#000" stroke-width="2.0"/>
<line x1="910.60" y1="610.14" x2="914.10" y2="610.14" stroke="#000" stroke-width="2.0"/>
<line x1="910.60" y1="579.41" x2="914.10" y2="579.41" stroke="#000" stroke-width="2.0"/>
<line x1="910.60" y1="548.67" x2="914.10" y2="548.67" stroke="#000" stroke-width="2.0"/>
<line x1="910.60" y1="517.93" x2="914.10" y2="517.93" stroke="#000" stroke-width="2.0"/>
<line x1="908.10" y1="779.20" x2="1099.70" y2="779.20" stroke="#000" stroke-width="2.0"/>
<rect x="923.75" y="546.45" width="73.00" height="232.75" fill="#000" stroke="#000" stroke-width="1.5" />
<rect x="1015.25" y="565.25" width="73.80" height="213.95" fill="#ff0000" stroke="#000" stroke-width="1.5" />
<line x1="960.60" y1="542.20" x2="960.60" y2="545.70" stroke="#000" stroke-width="1.6"/>
<line x1="957.40" y1="542.20" x2="963.80" y2="542.20" stroke="#000" stroke-width="1.6"/>
<line x1="1054.30" y1="560.30" x2="1054.30" y2="564.50" stroke="#000" stroke-width="1.6"/>
<line x1="1051.10" y1="560.30" x2="1057.50" y2="560.30" stroke="#000" stroke-width="1.6"/>
<path d="M960.6 539.7 V523.7 H1054.3 V557.4" stroke="#000" stroke-width="1.6" fill="none" />
<text x="996.79" y="525.96" style="font-size:42.70px;font-weight:bold" fill="#000">*</text>
<text x="888.52" y="787.40" style="font-size:29.2px">0</text>
<text x="872.31" y="756.66" style="font-size:29.2px">10</text>
<text x="872.31" y="725.93" style="font-size:29.2px">20</text>
<text x="872.31" y="695.19" style="font-size:29.2px">30</text>
<text x="872.31" y="664.45" style="font-size:29.2px">40</text>
<text x="872.31" y="633.71" style="font-size:29.2px">50</text>
<text x="872.31" y="602.98" style="font-size:29.2px">60</text>
<text x="872.31" y="572.24" style="font-size:29.2px">70</text>
<text x="872.31" y="541.50" style="font-size:29.2px">80</text>
<text x="938.05 964.41" y="807.00" style="font-size:29.3px;white-space:pre" fill="#000">WT</text>
<text x="1031.66 1050.78" y="807.00" style="font-size:29.3px;white-space:pre" fill="#000">KO</text>
<text x="969.25" y="848.90" style="font-size:30.00px;font-style:italic;letter-spacing:-0.37px" fill="#000">n = 10</text>
<line x1="1202.90" y1="516.60" x2="1202.90" y2="778.40" stroke="#000" stroke-width="2.0"/>
<line x1="1196.90" y1="778.40" x2="1202.90" y2="778.40" stroke="#000" stroke-width="2.0"/>
<line x1="1196.90" y1="726.04" x2="1202.90" y2="726.04" stroke="#000" stroke-width="2.0"/>
<line x1="1196.90" y1="673.68" x2="1202.90" y2="673.68" stroke="#000" stroke-width="2.0"/>
<line x1="1196.90" y1="621.32" x2="1202.90" y2="621.32" stroke="#000" stroke-width="2.0"/>
<line x1="1196.90" y1="568.96" x2="1202.90" y2="568.96" stroke="#000" stroke-width="2.0"/>
<line x1="1196.90" y1="516.60" x2="1202.90" y2="516.60" stroke="#000" stroke-width="2.0"/>
<line x1="1199.40" y1="752.22" x2="1202.90" y2="752.22" stroke="#000" stroke-width="2.0"/>
<line x1="1199.40" y1="699.86" x2="1202.90" y2="699.86" stroke="#000" stroke-width="2.0"/>
<line x1="1199.40" y1="647.50" x2="1202.90" y2="647.50" stroke="#000" stroke-width="2.0"/>
<line x1="1199.40" y1="595.14" x2="1202.90" y2="595.14" stroke="#000" stroke-width="2.0"/>
<line x1="1199.40" y1="542.78" x2="1202.90" y2="542.78" stroke="#000" stroke-width="2.0"/>
<line x1="1196.90" y1="778.40" x2="1367.20" y2="778.40" stroke="#000" stroke-width="2.0"/>
<rect x="1211.85" y="593.65" width="64.80" height="184.75" fill="#000" stroke="#000" stroke-width="1.5" />
<rect x="1294.55" y="558.85" width="64.80" height="219.55" fill="#ff0000" stroke="#000" stroke-width="1.5" />
<line x1="1244.20" y1="586.80" x2="1244.20" y2="592.90" stroke="#000" stroke-width="1.6"/>
<line x1="1241.00" y1="586.80" x2="1247.40" y2="586.80" stroke="#000" stroke-width="1.6"/>
<line x1="1327.00" y1="554.90" x2="1327.00" y2="558.10" stroke="#000" stroke-width="1.6"/>
<line x1="1323.80" y1="554.90" x2="1330.20" y2="554.90" stroke="#000" stroke-width="1.6"/>
<path d="M1243.7 584 V529.7 H1327.5 V545" stroke="#000" stroke-width="1.6" fill="none" />
<text x="1264.09" y="532.66" style="font-size:42.70px;font-weight:bold;letter-spacing:3.62px" fill="#000">**</text>
<text x="1178.52" y="787.00" style="font-size:29.2px">0</text>
<text x="1162.31" y="734.64" style="font-size:29.2px">10</text>
<text x="1162.31" y="682.28" style="font-size:29.2px">20</text>
<text x="1162.31" y="629.92" style="font-size:29.2px">30</text>
<text x="1162.31" y="577.56" style="font-size:29.2px">40</text>
<text x="1162.31" y="525.20" style="font-size:29.2px">50</text>
<text x="1222.55 1248.41" y="806.60" style="font-size:29.6px;white-space:pre" fill="#000">WT</text>
<text x="1305.73 1324.47" y="806.60" style="font-size:29.6px;white-space:pre" fill="#000">KO</text>
<text x="1241.36" y="848.90" style="font-size:29.14px;font-style:italic;letter-spacing:-0.67px" fill="#000">n = 10</text>
<line x1="1463.70" y1="513.00" x2="1463.70" y2="774.80" stroke="#000" stroke-width="2.0"/>
<line x1="1457.70" y1="774.80" x2="1463.70" y2="774.80" stroke="#000" stroke-width="2.0"/>
<line x1="1457.70" y1="722.44" x2="1463.70" y2="722.44" stroke="#000" stroke-width="2.0"/>
<line x1="1457.70" y1="670.08" x2="1463.70" y2="670.08" stroke="#000" stroke-width="2.0"/>
<line x1="1457.70" y1="617.72" x2="1463.70" y2="617.72" stroke="#000" stroke-width="2.0"/>
<line x1="1457.70" y1="565.36" x2="1463.70" y2="565.36" stroke="#000" stroke-width="2.0"/>
<line x1="1457.70" y1="513.00" x2="1463.70" y2="513.00" stroke="#000" stroke-width="2.0"/>
<line x1="1460.20" y1="748.62" x2="1463.70" y2="748.62" stroke="#000" stroke-width="2.0"/>
<line x1="1460.20" y1="696.26" x2="1463.70" y2="696.26" stroke="#000" stroke-width="2.0"/>
<line x1="1460.20" y1="643.90" x2="1463.70" y2="643.90" stroke="#000" stroke-width="2.0"/>
<line x1="1460.20" y1="591.54" x2="1463.70" y2="591.54" stroke="#000" stroke-width="2.0"/>
<line x1="1460.20" y1="539.18" x2="1463.70" y2="539.18" stroke="#000" stroke-width="2.0"/>
<line x1="1457.70" y1="774.80" x2="1630.00" y2="774.80" stroke="#000" stroke-width="2.0"/>
<rect x="1472.25" y="541.15" width="65.90" height="233.65" fill="#000" stroke="#000" stroke-width="1.5" />
<rect x="1555.25" y="543.25" width="65.80" height="231.55" fill="#ff0000" stroke="#000" stroke-width="1.5" />
<line x1="1505.20" y1="535.00" x2="1505.20" y2="540.40" stroke="#000" stroke-width="1.6"/>
<line x1="1502.00" y1="535.00" x2="1508.40" y2="535.00" stroke="#000" stroke-width="1.6"/>
<line x1="1588.20" y1="536.10" x2="1588.20" y2="542.50" stroke="#000" stroke-width="1.6"/>
<line x1="1585.00" y1="536.10" x2="1591.40" y2="536.10" stroke="#000" stroke-width="1.6"/>
<text x="1438.42" y="783.30" style="font-size:29.2px">0</text>
<text x="1422.21" y="730.94" style="font-size:29.2px">20</text>
<text x="1422.21" y="678.58" style="font-size:29.2px">40</text>
<text x="1422.21" y="626.22" style="font-size:29.2px">60</text>
<text x="1422.21" y="573.86" style="font-size:29.2px">80</text>
<text x="1406.00" y="521.50" style="font-size:29.2px">100</text>
<text x="1485.26 1511.22" y="800.90" style="font-size:29px;white-space:pre" fill="#000">WT</text>
<text x="1568.98 1588.10" y="800.90" style="font-size:29px;white-space:pre" fill="#000">KO</text>
<text x="1505.46" y="845.40" style="font-size:29.14px;font-style:italic;letter-spacing:-0.55px" fill="#000">n = 10</text>
<text transform="translate(562.00,768.60) rotate(-90)" x="-1.37" y="0" style="font-size:30.5px"><tspan style="font-size:30.5px;letter-spacing:-0.42px">Saliva [Ca</tspan><tspan dy="-19" style="font-size:16.5px">2+</tspan><tspan dy="19" style="font-size:30.5px;letter-spacing:-0.42px">]</tspan><tspan dy="12.4" style="font-size:18.7px;letter-spacing:-1.0px">Total</tspan><tspan dy="-12.4" style="font-size:30.5px;letter-spacing:-0.42px"> mM</tspan></text>
<text transform="translate(863.00,738.30) rotate(-90)" x="-1.33" y="0" style="font-size:29.5px"><tspan style="font-size:29.5px;letter-spacing:-1.2px">Saliva Na</tspan><tspan dy="-16.5" style="font-size:17px">+</tspan><tspan dy="16.5" style="font-size:29.5px;letter-spacing:-1.2px"> (mM)</tspan></text>
<text transform="translate(1150.50,732.00) rotate(-90)" x="-1.33" y="0" style="font-size:29.5px"><tspan style="font-size:29.5px;letter-spacing:-1.05px">Saliva K</tspan><tspan dy="-16.5" style="font-size:17px">+</tspan><tspan dy="16.5" style="font-size:29.5px;letter-spacing:-1.05px"> (mM)</tspan></text>
<text transform="translate(1410.50,729.10) rotate(-90)" x="-1.33" y="0" style="font-size:29.5px"><tspan style="font-size:29.5px;letter-spacing:-0.95px">Saliva Cl</tspan><tspan dy="-16.5" style="font-size:17px">-</tspan><tspan dy="16.5" style="font-size:29.5px;letter-spacing:-0.95px"> (mM)</tspan></text>
</svg>
</body></html>
